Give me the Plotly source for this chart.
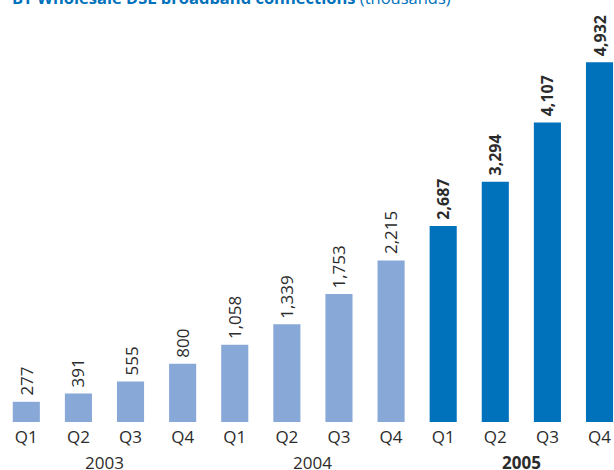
import plotly.graph_objects as go

# ---- data ----
quarters = ["Q1", "Q2", "Q3", "Q4"]
years = ["2003", "2004", "2005"]
values = [277, 391, 555, 800, 1058, 1339, 1753, 2215, 2687, 3294, 4107, 4932]
highlight_year = "2005"
title_main = "BT Wholesale DSL broadband connections"
title_unit = "(thousands)"

LIGHT = "#88a8d8"
DARK = "#0071bb"
TXT = "#2b2b2b"
FONT = "Open Sans"

n = len(values)
xs = list(range(n))
bar_years = [years[i // 4] for i in range(n)]
bar_quarters = [quarters[i % 4] for i in range(n)]
colors = [DARK if y == highlight_year else LIGHT for y in bar_years]

fig = go.Figure()
fig.add_trace(go.Bar(
    x=xs, y=values, width=0.52, marker=dict(color=colors, line=dict(width=0)),
    hoverinfo="skip", showlegend=False,
))

annotations = []
for x, v, yr in zip(xs, values, bar_years):
    t = f"{v:,}"
    bold = yr == highlight_year
    if bold:
        t = f"<b>{t}</b>"
    annotations.append(dict(
        x=x, y=v, xref="x", yref="y", text=t, textangle=-90,
        showarrow=False, yanchor="bottom", xanchor="center", yshift=4,
        font=dict(family=FONT, size=16 if bold else 17, color=TXT),
    ))

for k, yr in enumerate(years):
    t = f"<b>{yr}</b>" if yr == highlight_year else yr
    annotations.append(dict(
        x=4 * k + 1.5, y=0, xref="x", yref="paper", text=t, showarrow=False,
        yanchor="top", xanchor="center", yshift=-27,
        font=dict(family=FONT, size=17, color=TXT),
    ))

annotations.append(dict(
    x=0, y=1, xref="paper", yref="paper", xanchor="left", yanchor="bottom",
    xshift=10, yshift=-11,
    text=f"<b>{title_main}</b> {title_unit}", showarrow=False,
    font=dict(family=FONT, size=16.5, color=DARK),
))

fig.update_layout(
    width=614, height=470,
    margin=dict(l=0, r=0, t=0, b=48),
    paper_bgcolor="white", plot_bgcolor="white",
    xaxis=dict(range=[-0.505, 11.278], tickvals=xs, ticktext=bar_quarters,
               showgrid=False, zeroline=False, showline=False, ticks="",
               ticklabelstandoff=3,
               tickfont=dict(family=FONT, size=17, color=TXT)),
    yaxis=dict(range=[0, 5785], visible=False, showgrid=False, zeroline=False),
    annotations=annotations,
)

fig.write_html("out.html", config={"displayModeBar": False},
               post_script="document.body.style.margin='0';")
